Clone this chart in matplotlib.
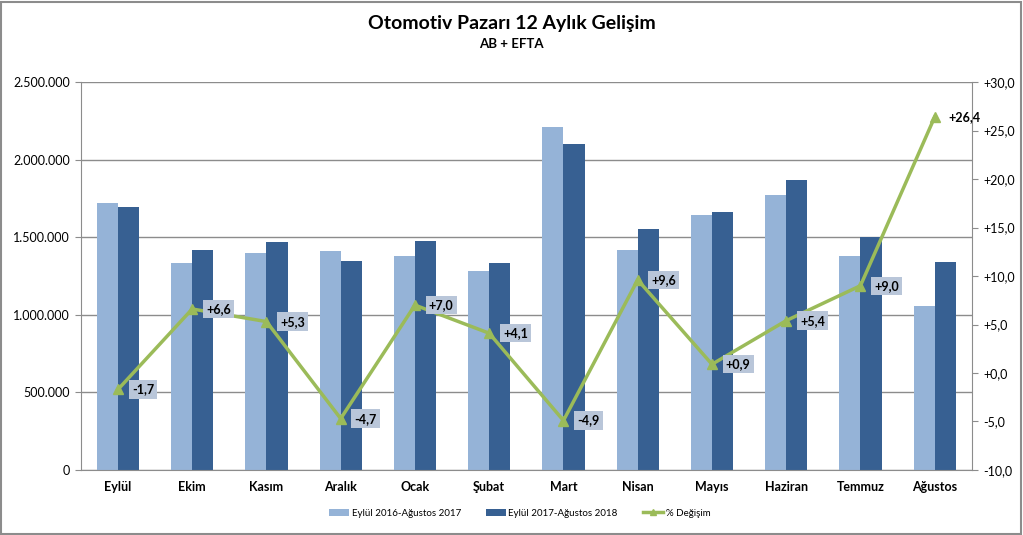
import numpy as np
import matplotlib.pyplot as plt
from matplotlib.ticker import FuncFormatter, MultipleLocator

plt.rcParams['font.family'] = ['Lato', 'DejaVu Sans']

months = ['Eylül', 'Ekim', 'Kasım', 'Aralık', 'Ocak', 'Şubat', 'Mart',
          'Nisan', 'Mayıs', 'Haziran', 'Temmuz', 'Ağustos']
prev_year = [1722000, 1332000, 1400000, 1409000, 1381000, 1280000, 2208000,
             1416000, 1643000, 1772000, 1379000, 1058000]
this_year = [1693000, 1420000, 1471000, 1347000, 1478000, 1334000, 2103000,
             1553000, 1660000, 1869000, 1501000, 1338000]
change = [-1.7, 6.6, 5.3, -4.7, 7.0, 4.1, -4.9, 9.6, 0.9, 5.4, 9.0, 26.4]

light = '#95b3d7'
dark = '#376092'
green = '#9bbb59'
grid_col = '#8c8c8c'

fig = plt.figure(figsize=(10.23, 5.35), dpi=100)
ax = fig.add_axes([0.079, 0.1215, 0.871, 0.7252])
x = np.arange(len(months))
w = 0.285

ax.bar(x - w / 2, prev_year, w, color=light, label='Eylül 2016-Ağustos 2017', zorder=2)
ax.bar(x + w / 2, this_year, w, color=dark, label='Eylül 2017-Ağustos 2018', zorder=2)

ax.set_xlim(-0.5, len(months) - 0.5)
ax.set_ylim(0, 2500000)
ax.yaxis.set_major_locator(MultipleLocator(500000))
ax.yaxis.set_major_formatter(FuncFormatter(lambda v, p: f'{int(v):,}'.replace(',', '.')))
ax.grid(axis='y', color=grid_col, linewidth=1, zorder=0)
ax.set_xticks(x)
ax.set_xticklabels(months, fontweight='bold', fontsize=9)
ax.tick_params(axis='x', length=0, pad=8)
ax.tick_params(axis='y', labelsize=9, length=4, color=grid_col, pad=4)
for s in ['top', 'right']:
    ax.spines[s].set_visible(False)
for s in ['left', 'bottom']:
    ax.spines[s].set_color(grid_col)

ax2 = ax.twinx()
ax2.plot(x, change, color=green, linewidth=2.5, marker='^', markersize=7,
         label='% Değişim', zorder=5)
ax2.set_ylim(-10, 30)
ax2.yaxis.set_major_locator(MultipleLocator(5))
ax2.yaxis.set_major_formatter(FuncFormatter(lambda v, p: f'{v:+.1f}'.replace('.', ',')))
ax2.tick_params(axis='y', labelsize=9, length=4, color=grid_col, pad=4)
for s in ['top', 'left', 'bottom']:
    ax2.spines[s].set_visible(False)
ax2.spines['right'].set_color(grid_col)

for i, v in enumerate(change):
    txt = f'{v:+.1f}'.replace('.', ',')
    box = dict(boxstyle='square,pad=0.25', fc='#b9c6d9', ec='none')
    if i == len(change) - 1:
        box = None
    ax2.annotate(txt, (i, v), xytext=(10, 0), textcoords='offset points',
                 ha='left', va='center', fontsize=9, fontweight='bold', bbox=box, zorder=6)

fig.text(0.5, 0.957, 'Otomotiv Pazarı 12 Aylık Gelişim', ha='center', va='center',
         fontsize=14, fontweight='bold')
fig.text(0.5, 0.917, 'AB + EFTA', ha='center', va='center', fontsize=9.5, fontweight='bold')

h1, l1 = ax.get_legend_handles_labels()
h2, l2 = ax2.get_legend_handles_labels()
leg = fig.legend(h1 + h2, l1 + l2, loc='center', bbox_to_anchor=(0.508, 0.041), ncol=3,
                 frameon=False, fontsize=7, handlelength=2.0, handletextpad=0.3,
                 columnspacing=2.6, markerscale=0.6)

fig.patches.append(plt.Rectangle((0.001, 0.002), 0.997, 0.995, transform=fig.transFigure,
                                 fill=False, edgecolor='#8c8c8c', linewidth=1.5))

fig.savefig('out.png', dpi=100)
